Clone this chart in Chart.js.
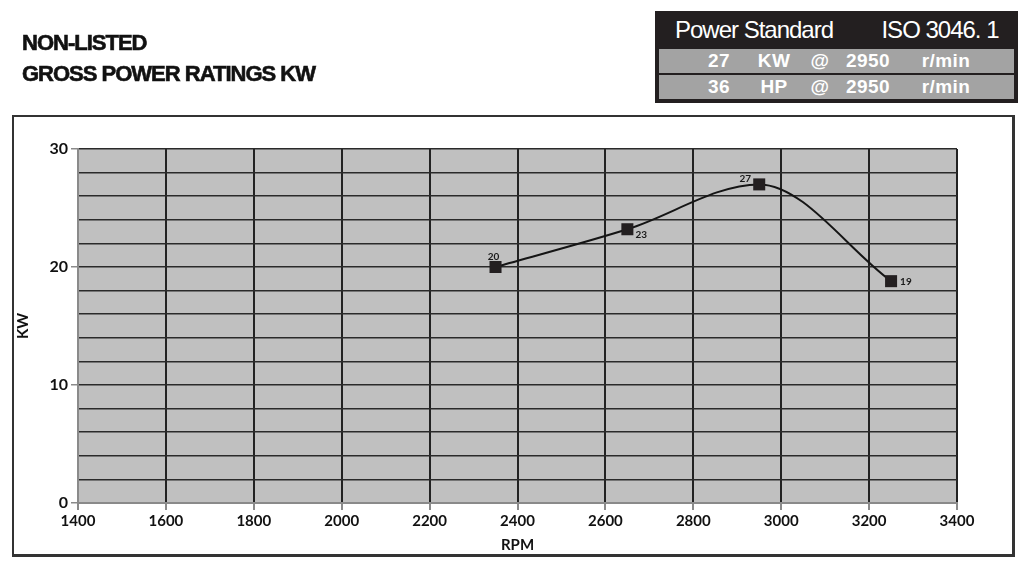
<!DOCTYPE html>
<html>
<head>
<meta charset="utf-8">
<script src="https://cdn.jsdelivr.net/npm/chart.js@4/dist/chart.umd.min.js"></script>
<style>
  html, body { margin:0; padding:0; background:#fff; }
  #wrap { position:relative; width:1033px; height:562px; overflow:hidden; font-family:"Liberation Sans", Arial, sans-serif; }
  #box { position:absolute; left:12px; top:115px; width:998px; height:437px; border:2px solid #333; border-right-width:3px; border-bottom-width:3px; }
  #c { position:absolute; left:0; top:0; }
  .title { position:absolute; left:22px; font-weight:bold; font-size:22px; line-height:22px; color:#111; letter-spacing:-1px; white-space:nowrap; -webkit-text-stroke:0.6px #111; }
  #tbl { position:absolute; left:655px; top:11px; width:359px; height:88px; background:#231f20; border:2px solid #231f20; }
  .r1 { position:absolute; left:0; top:0; width:359px; height:34px; color:#fff; font-size:24px; letter-spacing:-1px; }
  .r { position:absolute; left:2px; width:355px; height:24px; background:#a3a3a3; color:#fff; font-weight:bold; font-size:19px; letter-spacing:0.4px; }
  .r1 span, .r span { position:absolute; top:50%; transform:translate(-50%,-50%); white-space:nowrap; }
</style>
</head>
<body>
<div id="wrap">
  <div id="box"></div>
  <canvas id="c" width="1033" height="562"></canvas>
  <div class="title" style="top:32px;">NON-LISTED</div>
  <div class="title" style="top:63px;">GROSS POWER RATINGS KW</div>
  <div id="tbl">
    <div class="r1"><span style="left:97px;">Power Standard</span><span style="left:283px;">ISO 3046. 1</span></div>
    <div class="r" style="top:36px;"><span style="left:60px;">27</span><span style="left:115px;">KW</span><span style="left:161px;">@</span><span style="left:209px;">2950</span><span style="left:287px;">r/min</span></div>
    <div class="r" style="top:62px;"><span style="left:60px;">36</span><span style="left:115px;">HP</span><span style="left:161px;">@</span><span style="left:209px;">2950</span><span style="left:287px;">r/min</span></div>
  </div>
</div>
<script>
const rpm = [2350, 2650, 2950, 3250];
const kw = [20, 23.2, 27, 18.8];
const pointLabels = ['20', '23', '27', '19'];
const xTicks = [1400, 1600, 1800, 2000, 2200, 2400, 2600, 2800, 3000, 3200, 3400];
const yLabelTicks = [0, 10, 20, 30];

// label placement (style only): dx, dy from point, alignment
const labelPlacement = [
  {dx: -2, dy: -10, align: 'center'},
  {dx: 8, dy: 6, align: 'left'},
  {dx: -14, dy: -6, align: 'center'},
  {dx: 9, dy: 1, align: 'left'}
];

const labelPlugin = {
  id: 'ptLabels',
  afterDatasetsDraw(chart) {
    const ctx = chart.ctx;
    const meta = chart.getDatasetMeta(0);
    ctx.save();
    ctx.font = 'bold 10px Lato, "Open Sans", sans-serif';
    ctx.fillStyle = '#1a1a1a';
    ctx.textBaseline = 'middle';
    meta.data.forEach((pt, i) => {
      const p = labelPlacement[i];
      ctx.textAlign = p.align;
      ctx.fillText(pointLabels[i], pt.x + p.dx, pt.y + p.dy);
    });
    ctx.restore();
  }
};

const bgPlugin = {
  id: 'plotBg',
  beforeDraw(chart) {
    const a = chart.chartArea, ctx = chart.ctx;
    ctx.save();
    ctx.fillStyle = '#c0c0c0';
    ctx.fillRect(a.left, a.top, a.right - a.left, a.bottom - a.top);
    ctx.restore();
  }
};

const tickFont = { family: 'Lato, "Open Sans", sans-serif', weight: 'bold', size: 15 };

new Chart(document.getElementById('c'), {
  type: 'line',
  data: {
    datasets: [{
      data: rpm.map((x, i) => ({x, y: kw[i]})),
      borderColor: '#151515',
      borderWidth: 2,
      cubicInterpolationMode: 'monotone',
      pointStyle: 'rect',
      pointRadius: 8.5,
      pointBackgroundColor: '#231f20',
      pointBorderColor: '#231f20',
      pointBorderWidth: 0
    }]
  },
  options: {
    responsive: false,
    animation: false,
    layout: { padding: { left: 12, top: 149, right: 76, bottom: 6 } },
    plugins: { legend: { display: false }, tooltip: { enabled: false } },
    scales: {
      x: {
        type: 'linear',
        min: 1400, max: 3400,
        afterBuildTicks(s) { s.ticks = xTicks.map(v => ({value: v})); },
        afterFit(s) { s.height = 53; },
        ticks: {
          color: '#111',
          font: tickFont,
          padding: 2,
          maxRotation: 0,
          autoSkip: false,
          callback: v => String(v)
        },
        grid: { color: '#222', lineWidth: 2, tickColor: '#8a8a8a', tickLength: 7 },
        border: { color: '#8a8a8a', width: 2 },
        title: { display: true, text: 'RPM', color: '#111', font: tickFont, padding: { top: 0, bottom: 2 } }
      },
      y: {
        min: 0, max: 30,
        afterFit(s) { s.width = 66; },
        ticks: {
          stepSize: 2,
          color: '#111',
          font: { family: 'Lato, "Open Sans", sans-serif', weight: 'bold', size: 16 },
          padding: 3,
          autoSkip: false,
          callback: v => yLabelTicks.includes(v) ? String(v) : ''
        },
        grid: {
          color: '#2a2a2a',
          lineWidth: 1.5,
          tickLength: 7,
          tickColor: ctx => (ctx.tick && yLabelTicks.includes(ctx.tick.value)) ? '#8a8a8a' : 'rgba(0,0,0,0)'
        },
        border: { color: '#8a8a8a', width: 2 },
        title: { display: true, text: 'KW', color: '#111', font: tickFont, padding: { top: 2, bottom: 0 } }
      }
    }
  },
  plugins: [bgPlugin, labelPlugin]
});
</script>
</body>
</html>
